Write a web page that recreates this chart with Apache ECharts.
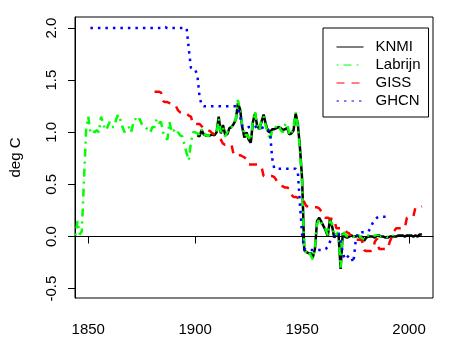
<!doctype html>
<html>
<head>
<meta charset="utf-8">
<title>deg C series</title>
<script src="https://cdn.jsdelivr.net/npm/echarts@6/dist/echarts.min.js"></script>
<style>
  html, body { margin: 0; padding: 0; background: #fff; }
  #main { width: 451px; height: 352px; }
</style>
</head>
<body>
<div id="main"></div>
<script>
// tick labels
var xTicks = [1850, 1900, 1950, 2000];
var yTicks = [-0.5, 0, 0.5, 1, 1.5, 2];

// KNMI, yearly from 1901
var knmiStart = 1901;
var knmiValues = [
  0.97, 0.96, 1.02, 0.98, 0.97, 0.97, 0.97, 0.98, 0.97, 1.00,
  1.15, 0.99, 1.07, 0.98, 0.98, 1.04, 1.05, 1.08, 1.12, 1.28,
  1.22, 1.05, 0.95, 1.00, 0.93, 0.90, 1.10, 1.18, 1.06, 1.03,
  1.10, 1.17, 1.08, 1.01, 1.00, 1.03, 1.03, 1.04, 1.05, 1.04,
  1.02, 1.03, 1.04, 0.98, 0.99, 1.02, 1.18, 1.08, 0.85, 0.55,
  -0.13, -0.15, -0.16, -0.16, -0.20, -0.12, 0.15, 0.18, 0.14, 0.10,
  0.06, 0.00, 0.17, 0.10, -0.01, 0.02, 0.03, -0.31, 0.03, 0.00,
  -0.01, 0.00, 0.01, 0.00, 0.00, 0.01, -0.01, 0.00, -0.04, -0.01,
  0.00, 0.00, 0.00, -0.01, 0.01, 0.01, 0.00, 0.00, -0.01, -0.01,
  0.00, 0.00, 0.00, 0.00, 0.01, 0.01, 0.01, 0.00, 0.01, 0.01,
  0.01, 0.00, 0.01, 0.00, 0.02, 0.02
];

// Labrijn, yearly from 1844
var labrijnStart = 1844;
var labrijnValues = [
  0.01, 0.15, 0.02, 0.05, 0.55, 1.02, 1.15,
  1.00, 1.02, 1.00, 1.02, 1.00, 1.15, 1.08, 1.02, 1.05, 1.10,
  1.05, 1.05, 1.12, 1.17, 1.12, 1.05, 1.00, 1.03, 1.05, 1.00,
  1.08, 1.13, 1.10, 1.13, 1.08, 1.07, 1.04, 1.03, 1.00, 1.05,
  1.05, 1.13, 1.09, 1.10, 1.00, 0.95, 0.93, 1.10, 1.00, 1.02,
  0.98, 1.00, 0.97, 0.96, 0.88, 0.80, 0.73, 0.90, 1.00, 1.00,
  0.99, 0.98, 1.03, 0.97, 0.98, 0.96, 0.99, 0.97, 1.00, 0.99,
  1.13, 1.00, 1.05, 0.96, 1.00, 1.03, 1.04, 1.10, 1.12, 1.31,
  1.20, 1.07, 0.96, 0.98, 0.95, 0.92, 1.12, 1.20, 1.04, 1.02,
  1.12, 1.15, 1.06, 1.00, 0.92, 1.02, 1.03, 1.06, 1.07, 1.02,
  1.00, 1.07, 1.09, 0.97, 1.00, 1.04, 1.19, 1.06, 0.82, 0.50,
  -0.12, -0.16, -0.14, -0.18, -0.22, -0.10, 0.12, 0.17, 0.13, 0.10,
  0.07, 0.01, 0.15, 0.12, 0.00, 0.02, 0.04, -0.30, 0.06, 0.02,
  0.00, 0.02, 0.01, 0.00, -0.01, 0.02, 0.00, -0.02, -0.03, 0.00,
  0.01, 0.00, 0.01, 0.01, 0.01, 0.00, 0.00, 0.00, -0.01, 0.00,
  0.01, 0.00, 0.01
];

// GISS, yearly from 1881
var gissStart = 1881;
var gissValues = [
  1.39, 1.39, 1.39, 1.38, 1.30, 1.29, 1.29, 1.28, 1.27, 1.27,
  1.25, 1.21, 1.19, 1.18, 1.18, 1.18, 1.16, 1.15, 1.08, 1.08,
  1.08, 1.08, 1.06, 1.03, 1.03, 1.02, 1.01, 0.99, 0.98, 0.97,
  0.95, 0.93, 0.89, 0.88, 0.88, 0.88, 0.88, 0.78, 0.78, 0.78,
  0.78, 0.77, 0.76, 0.74, 0.69, 0.69, 0.69, 0.69, 0.69, 0.68,
  0.67, 0.58, 0.58, 0.58, 0.58, 0.58, 0.57, 0.54, 0.51, 0.49,
  0.48, 0.47, 0.47, 0.46, 0.40, 0.38, 0.38, 0.37, 0.37, 0.37,
  0.33, 0.29, 0.29, 0.29, 0.28, 0.28, 0.28, 0.27, 0.24, 0.20,
  0.18, 0.18, 0.17, 0.17, 0.17, 0.08, 0.08, 0.08, 0.08, 0.06,
  0.04, 0.03, -0.01, -0.03, -0.03, -0.03, -0.03, -0.04, -0.13, -0.14,
  -0.14, -0.14, -0.13, -0.05, -0.02, -0.12, -0.12, -0.12, -0.12, -0.12,
  -0.05, 0.00, 0.05, 0.08, 0.08, 0.08, 0.08, 0.08, 0.18, 0.18,
  0.18, 0.19, 0.28, 0.28, 0.28, 0.29
];

// GHCN, yearly from 1851
var ghcnStart = 1851;
var ghcnValues = [
  2.00, 2.00, 2.00, 2.00, 2.00, 2.00, 2.00, 2.00, 2.00, 2.00,
  2.00, 2.00, 2.00, 2.00, 2.00, 2.00, 2.00, 2.00, 2.00, 2.00,
  2.00, 2.00, 2.00, 2.00, 2.00, 2.00, 2.00, 2.00, 2.00, 2.00,
  2.00, 2.00, 2.00, 2.00, 2.01, 2.01, 2.00, 2.00, 2.00, 2.00,
  2.00, 2.00, 2.00, 2.00, 2.00, 2.00, 1.80, 1.62, 1.60, 1.60,
  1.55, 1.35, 1.26, 1.25, 1.25, 1.25, 1.25, 1.25, 1.25, 1.25,
  1.25, 1.25, 1.25, 1.25, 1.25, 1.25, 1.25, 1.25, 1.25, 1.24,
  1.15, 1.06, 1.05, 1.04, 1.05, 1.05, 1.04, 1.05, 1.06, 1.05,
  1.04, 1.05, 1.05, 1.03, 1.00, 0.75, 0.65, 0.65, 0.65, 0.65,
  0.65, 0.65, 0.65, 0.65, 0.65, 0.65, 0.65, 0.62, 0.30, 0.02,
  -0.12, -0.13, -0.13, -0.13, -0.13, -0.13, -0.13, -0.13, -0.13, -0.13,
  -0.12, -0.10, -0.05, -0.02, 0.00, 0.03, 0.04, -0.05, -0.15, -0.22,
  -0.20, -0.18, -0.20, -0.25, -0.05, 0.03, 0.03, 0.04, 0.04, 0.04,
  0.05, 0.08, 0.13, 0.16, 0.18, 0.19, 0.19, 0.19, 0.19, 0.19
];

function pairs(start, values) {
  return values.map(function (v, i) { return [start + i, v]; });
}

var font = "'Liberation Sans', Arial, sans-serif";
var chart = echarts.init(document.getElementById('main'), null, { renderer: 'canvas' });

chart.setOption({
  animation: false,
  backgroundColor: '#fff',
  textStyle: { fontFamily: font },
  grid: {
    left: 72, right: 18, top: 17, bottom: 54,
    show: true, borderColor: '#000', borderWidth: 1, backgroundColor: 'transparent'
  },
  legend: {
    data: ['KNMI', 'Labrijn', 'GISS', 'GHCN'],
    orient: 'vertical',
    left: 323, top: 28,
    padding: [10, 8, 7, 13],
    borderColor: '#000', borderWidth: 1,
    itemWidth: 27, itemHeight: 10, itemGap: 0,
    lineStyle: { width: 1 },
    itemStyle: { color: 'rgba(0,0,0,0)', borderWidth: 0, opacity: 0 },
    textStyle: { fontSize: 15, color: '#000', fontFamily: font, lineHeight: 18, padding: [0, 0, 0, 7] },
    selectedMode: false
  },
  xAxis: {
    type: 'value',
    min: 1843.8, max: 2011.2,
    axisLine: { show: true, lineStyle: { color: '#000', width: 1 } },
    axisTick: { show: true, length: 7, lineStyle: { color: '#000' }, customValues: xTicks },
    axisLabel: {
      fontSize: 15, color: '#000', margin: 24, fontFamily: font, customValues: xTicks,
      formatter: function (v) { return String(v); }
    },
    splitLine: { show: false }
  },
  yAxis: {
    type: 'value',
    min: -0.59, max: 2.106,
    name: 'deg C',
    nameLocation: 'middle',
    nameGap: 52,
    nameTextStyle: { fontSize: 15, color: '#000', fontFamily: font },
    axisLine: { show: true, lineStyle: { color: '#000', width: 1 } },
    axisTick: { show: true, length: 7, lineStyle: { color: '#000' }, customValues: yTicks },
    axisLabel: {
      fontSize: 15, color: '#000', margin: 16, rotate: 90, fontFamily: font,
      align: 'center', verticalAlign: 'bottom',
      customValues: yTicks,
      formatter: function (v) { return v.toFixed(1); }
    },
    splitLine: { show: false }
  },
  series: [
    {
      name: 'KNMI', type: 'line', symbol: 'none', showSymbol: false,
      data: pairs(knmiStart, knmiValues),
      lineStyle: { color: '#000', width: 2.5 },
      itemStyle: { color: '#000' },
      markLine: {
        silent: true, symbol: ['none', 'none'],
        label: { show: false },
        lineStyle: { color: '#000', width: 1, type: [4, 3] },
        data: [{ yAxis: 0 }]
      }
    },
    {
      name: 'Labrijn', type: 'line', symbol: 'none', showSymbol: false,
      data: pairs(labrijnStart, labrijnValues),
      lineStyle: { color: '#00ff00', width: 2.5, type: [2, 5, 8, 5] },
      itemStyle: { color: '#00ff00' }
    },
    {
      name: 'GISS', type: 'line', symbol: 'none', showSymbol: false,
      data: pairs(gissStart, gissValues),
      lineStyle: { color: '#ff0000', width: 2.5, type: [8, 7] },
      itemStyle: { color: '#ff0000' }
    },
    {
      name: 'GHCN', type: 'line', symbol: 'none', showSymbol: false,
      data: pairs(ghcnStart, ghcnValues),
      lineStyle: { color: '#0000ff', width: 2.5, type: [2.5, 5] },
      itemStyle: { color: '#0000ff' }
    }
  ]
});

window.onresize = chart.resize;
</script>
</body>
</html>
